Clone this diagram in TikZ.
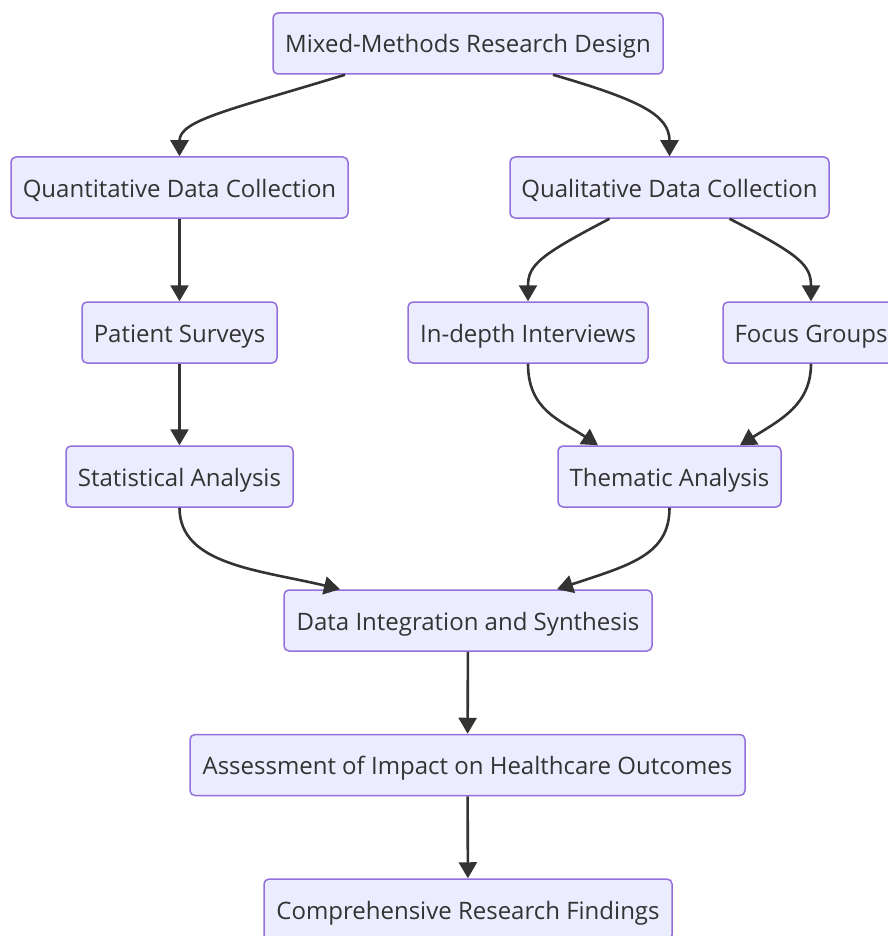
\documentclass[tikz,border=0pt]{standalone}
\usepackage{fontspec}
\setmainfont{Open Sans}
\usetikzlibrary{arrows.meta}
\definecolor{boxfill}{HTML}{ECECFF}
\definecolor{boxline}{HTML}{9370DB}
\definecolor{ink}{HTML}{333333}
\tikzset{
  stepbox/.style={draw=boxline, fill=boxfill, line width=1.5pt, rounded corners=5pt,
    minimum height=61pt, inner sep=0pt, text=ink, text height=23pt, text depth=4pt,
    font=\fontsize{24}{28}\selectfont},
  link/.style={draw=ink, line width=2.6pt, -{Triangle[width=18pt,length=16pt]}}
}
\begin{document}
\begin{tikzpicture}[x=1pt,y=-1pt]
\useasboundingbox (0,0) rectangle (887,936);

\node[stepbox, minimum width=390pt] (design) at (468,43.5) {Mixed-Methods Research Design};
\node[stepbox, minimum width=337pt] (quant) at (179.5,187.5) {Quantitative Data Collection};
\node[stepbox, minimum width=319pt] (qual) at (669.5,187.5) {Qualitative Data Collection};
\node[stepbox, minimum width=195pt] (survey) at (179.5,332.5) {Patient Surveys};
\node[stepbox, minimum width=240pt] (interview) at (528,332.5) {In-depth Interviews};
\node[stepbox, minimum width=176pt] (focus) at (811,332.5) {Focus Groups};
\node[stepbox, minimum width=227pt] (stats) at (179.5,476.5) {Statistical Analysis};
\node[stepbox, minimum width=223pt] (theme) at (669.5,476.5) {Thematic Analysis};
\node[stepbox, minimum width=368pt] (integrate) at (468,620.5) {Data Integration and Synthesis};
\node[stepbox, minimum width=555pt] (assess) at (467.5,765) {Assessment of Impact on Healthcare Outcomes};
\node[stepbox, minimum width=408pt] (findings) at (468,909.5) {Comprehensive Research Findings};

% branching connectors
\draw[link] ([xshift=-123pt]design.south) .. controls (230,110) and (179.5,120) .. (quant.north);
\draw[link] ([xshift=85pt]design.south) .. controls (640,100) and (669.5,115) .. (qual.north);
\draw[link] ([xshift=-60pt]qual.south) .. controls (540,255) and (528,265) .. (interview.north);
\draw[link] ([xshift=60pt]qual.south) .. controls (800,255) and (811,265) .. (focus.north);

% merging connectors
\draw[link] (interview.south) .. controls (528,410) and (560,420) .. ([xshift=-71.5pt]theme.north);
\draw[link] (focus.south) .. controls (811,405) and (780,420) .. ([xshift=70.5pt]theme.north);
\draw[link] (stats.south) .. controls (179.5,565) and (260,570) .. ([xshift=-128pt]integrate.north);
\draw[link] (theme.south) .. controls (669.5,555) and (630,565) .. ([xshift=89pt]integrate.north);

% straight chain
\draw[link] (quant) -- (survey);
\draw[link] (survey) -- (stats);
\draw[link] (integrate) -- (assess);
\draw[link] (assess) -- (findings);
\end{tikzpicture}
\end{document}
